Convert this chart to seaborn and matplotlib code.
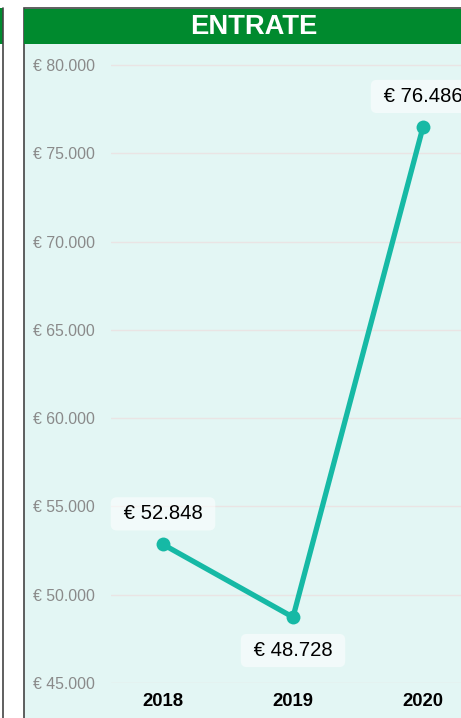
import matplotlib
matplotlib.use('Agg')
import matplotlib.pyplot as plt
import seaborn as sns
import pandas as pd
from matplotlib.patches import Rectangle
from matplotlib.ticker import FuncFormatter, MultipleLocator

# Data
anni = ["2018", "2019", "2020"]
entrate = [52848, 48728, 76486]
label_offset = [22, -24, 22]  # points above / below each marker

sns.set_theme(style="white")
plt.rcParams['font.family'] = ['Liberation Sans', 'DejaVu Sans']

W, H = 461, 718
fig = plt.figure(figsize=(W / 100, H / 100), dpi=100)

def fx(px):
    return px / W

def fy(py):
    return 1 - py / H

# neighbouring panel edge on the left
fig.patches.append(Rectangle((fx(-10), fy(44)), fx(12.5), fy(8) - fy(44),
                             transform=fig.transFigure, facecolor="#008A2E",
                             edgecolor="none", zorder=0))
fig.add_artist(plt.Line2D([fx(2.5), fx(2.5)], [fy(8), fy(730)],
                          transform=fig.transFigure, color="#444444", lw=1.2))

# panel background + header
fig.patches.append(Rectangle((fx(23.5), fy(730)), fx(480), fy(8) - fy(730),
                             transform=fig.transFigure, facecolor="#E3F6F4",
                             edgecolor="#444444", lw=1.2, zorder=0))
fig.patches.append(Rectangle((fx(24), fy(44)), fx(480), fy(8.5) - fy(44),
                             transform=fig.transFigure, facecolor="#008A2E",
                             edgecolor="none", zorder=0))
fig.text(fx(253.5), fy(27), "ENTRATE", color="white", fontsize=19.7,
         fontweight="bold", ha="center", va="center")

# axes: xlim (-0.4, 2.4) at 130 px per category, ylim 45000..81000
ax_left, ax_right = 111, 475
ax_top, ax_bottom = 47.3, 683
ax = fig.add_axes([fx(ax_left), fy(ax_bottom), fx(ax_right - ax_left),
                   fy(ax_top) - fy(ax_bottom)])
ax.set_facecolor("none")
ax.set_zorder(5)

df = pd.DataFrame({"anno": anni, "entrate": entrate})
sns.lineplot(data=df, x="anno", y="entrate", ax=ax, color="#16B9A5",
             linewidth=3.8, marker="o", markersize=10, markeredgewidth=0,
             zorder=3)

ax.set_xlim(-0.4, 2.4)
ax.set_ylim(45000, 81000)
ax.yaxis.set_major_locator(MultipleLocator(5000))
ax.yaxis.set_major_formatter(FuncFormatter(lambda v, p: "€ " + f"{int(v):,}".replace(",", ".")))
ax.grid(axis="y", color="#EAE4E4", linewidth=1.0)
ax.grid(axis="x", visible=False)
for s in ax.spines.values():
    s.set_visible(False)

ax.tick_params(axis="y", length=0, pad=56, labelsize=11.4, labelcolor="#8A8A8A")
for t in ax.get_yticklabels():
    t.set_horizontalalignment("left")
ax.tick_params(axis="x", length=0, pad=7, labelsize=13.3, labelcolor="black")
for t in ax.get_xticklabels():
    t.set_fontweight("bold")
ax.set_xlabel("")
ax.set_ylabel("")

for i, (v, off) in enumerate(zip(entrate, label_offset)):
    ax.annotate(" € " + f"{v:,}".replace(",", ".") + " ", (i, v),
                xytext=(0, off), textcoords="offset points",
                ha="center", va="center", fontsize=14.6, color="black",
                bbox=dict(boxstyle="round,pad=0.35,rounding_size=0.3",
                          facecolor="white", edgecolor="none", alpha=0.55),
                zorder=4)

fig.savefig("out.png", dpi=100)
